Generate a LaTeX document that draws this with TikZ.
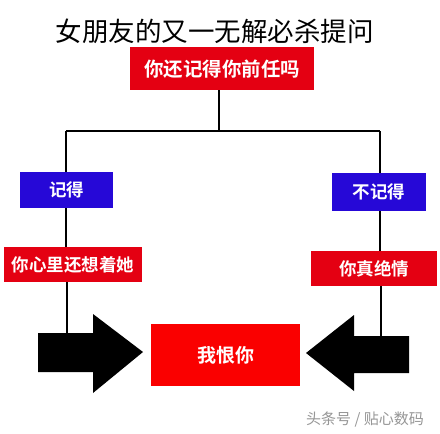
\documentclass[tikz,border=0pt]{standalone}
\usepackage{fontspec}
\newfontfamily\cjk{Noto Sans CJK SC}
\newfontfamily\cjkb{Noto Sans CJK SC Bold}
\usetikzlibrary{backgrounds}
\definecolor{boxred}{RGB}{228,0,18}
\definecolor{hotred}{RGB}{250,0,0}
\definecolor{boxblue}{RGB}{38,8,215}
\definecolor{wm}{RGB}{150,150,150}
\tikzset{
  x=1pt,y=-1pt,
  box/.style={draw=none,inner sep=0pt,anchor=north west,text=white,font=\cjkb},
  conn/.style={draw=black,line width=2pt},
  bigarrow/.style={fill=black,draw=none},
}
\begin{document}
\begin{tikzpicture}
\useasboundingbox (0,0) rectangle (440,434);
% title
\node[font=\cjk\fontsize{26.5}{27}\selectfont,inner sep=0pt] (title) at (215,31) {女朋友的又一无解必杀提问};
% boxes
\node[box,fill=boxred,minimum width=184pt,minimum height=43pt,font=\cjkb\fontsize{19.5}{20}\selectfont] (q) at (130,47) {你还记得你前任吗};
\node[box,fill=boxblue,minimum width=93pt,minimum height=36pt,font=\cjkb\fontsize{17.5}{18}\selectfont] (yes) at (20,172) {记得};
\node[box,fill=boxblue,minimum width=94pt,minimum height=38pt,font=\cjkb\fontsize{17.5}{18}\selectfont] (no) at (332,173) {不记得};
\node[box,fill=boxred,minimum width=138pt,minimum height=35pt,font=\cjkb\fontsize{17.5}{18}\selectfont] (still) at (4,247) {你心里还想着她};
\node[box,fill=boxred,minimum width=126pt,minimum height=35pt,font=\cjkb\fontsize{17.5}{18}\selectfont] (cold) at (311,251) {你真绝情};
\node[box,fill=hotred,minimum width=149pt,minimum height=62pt,font=\cjkb\fontsize{19}{20}\selectfont] (hate) at (151,324) {我恨你};
% watermark
\node[font=\cjk\fontsize{15}{15}\selectfont,text=wm,inner sep=0pt] (mark) at (365,420) {头条号 / 贴心数码};
% junction points
\coordinate (jc) at (219,131);
\coordinate (jl) at (66,131);
\coordinate (jr) at (380,131);
\coordinate (al) at (67,340);
\coordinate (ar) at (381,340);
\begin{scope}[on background layer]
\fill[white] (0,0) rectangle (440,434);
\draw[conn] (q.south -| jc) -- (jc);
\draw[conn] (jl) -- (jr);
\draw[conn] (jl) -- (jl |- yes.north);
\draw[conn] (jr) -- (jr |- no.north);
\draw[conn] (jl |- yes.south) -- (jl |- still.north);
\draw[conn] (jr |- no.south) -- (jr |- cold.north);
\draw[conn] (al |- still.south) -- (al);
\draw[conn] (ar |- cold.south) -- (ar);
\end{scope}
% big arrows
\fill[bigarrow] (38,333) -- (93,333) -- (93,314) -- (143,352) -- (93,393) -- (93,372) -- (38,372) -- cycle;
\fill[bigarrow] (409,336) -- (354,336) -- (354,315) -- (306,353) -- (354,391) -- (354,373) -- (409,373) -- cycle;
\end{tikzpicture}
\end{document}
